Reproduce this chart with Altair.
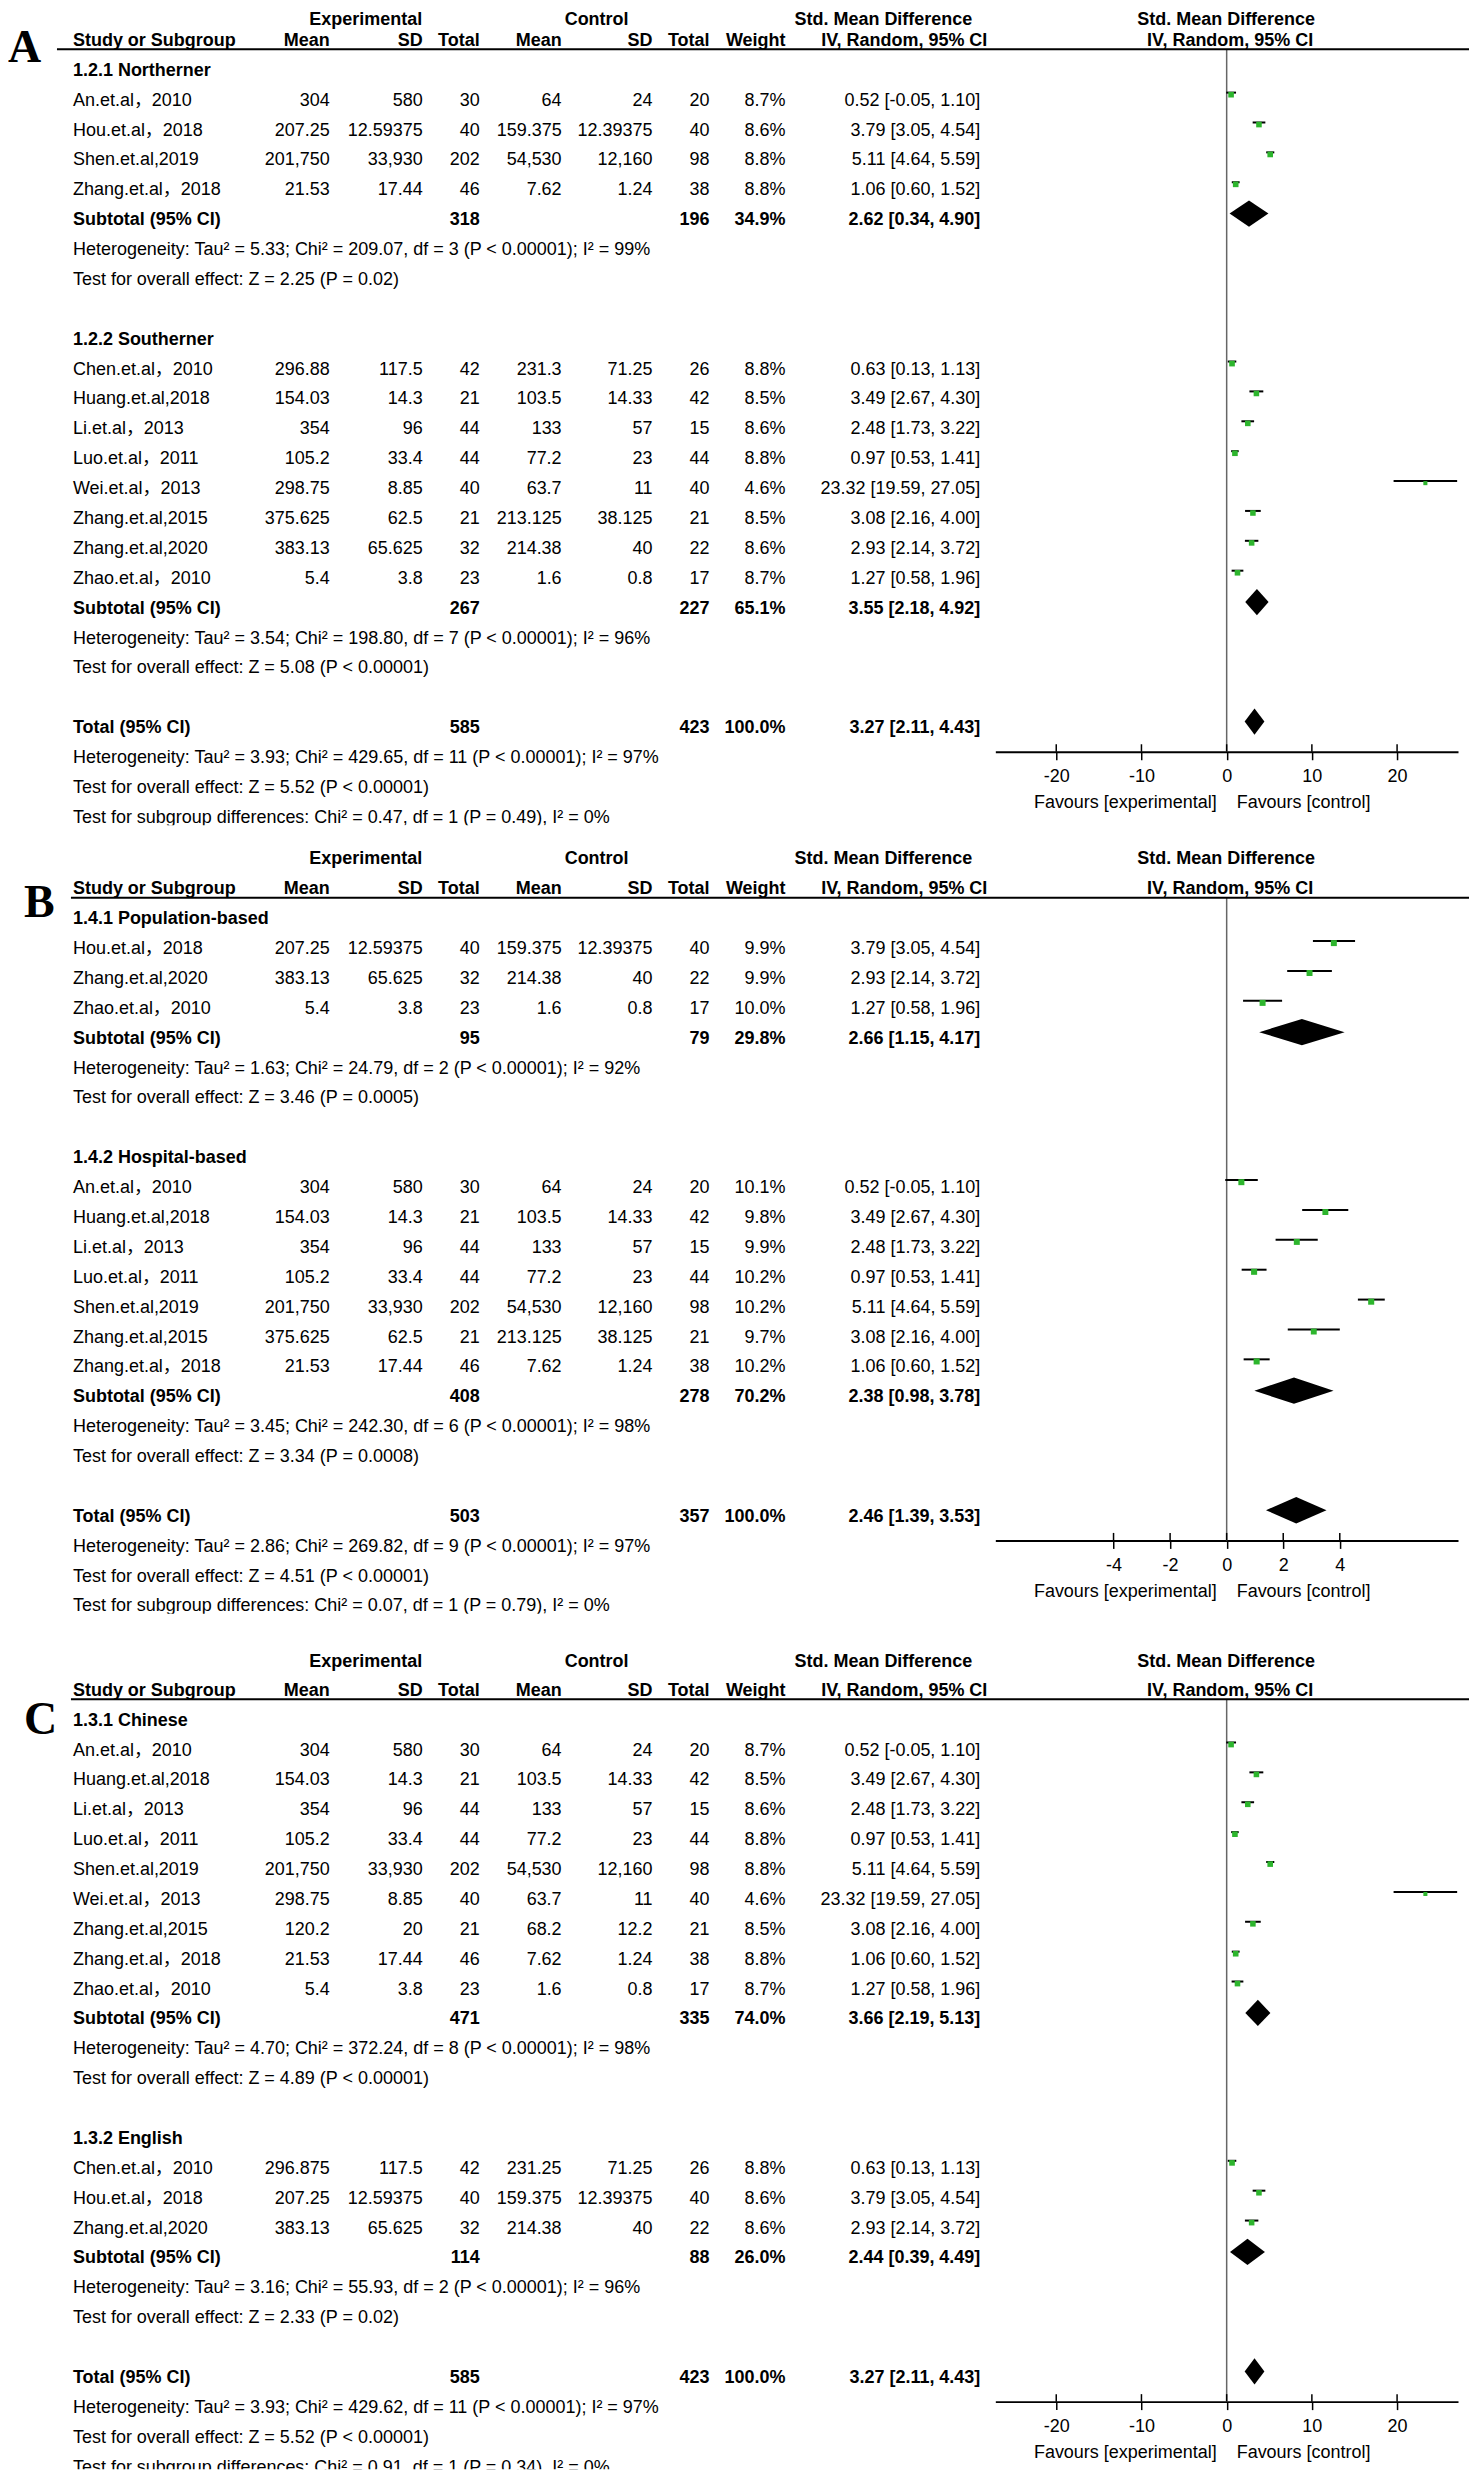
import altair as alt
import pandas as pd

FONT = "Liberation Sans, Noto Sans CJK SC"
SERIF = "Liberation Serif"
FS = 18
GREEN = "#2db52d"
W = 1462
STEP = 29.9

# ---------------- Panel A ----------------
A1_title = "1.2.1 Northerner"
A1_study = ["An.et.al，2010", "Hou.et.al，2018", "Shen.et.al,2019", "Zhang.et.al，2018"]
A1_exp = [("304", "580", 30), ("207.25", "12.59375", 40), ("201,750", "33,930", 202), ("21.53", "17.44", 46)]
A1_ctl = [("64", "24", 20), ("159.375", "12.39375", 40), ("54,530", "12,160", 98), ("7.62", "1.24", 38)]
A1_weight = [8.7, 8.6, 8.8, 8.8]
A1_smd = [0.52, 3.79, 5.11, 1.06]
A1_lo = [-0.05, 3.05, 4.64, 0.60]
A1_hi = [1.10, 4.54, 5.59, 1.52]
A1_sub = [318, 196, 34.9, 2.62, 0.34, 4.90]
A1_notes = ["Heterogeneity: Tau² = 5.33; Chi² = 209.07, df = 3 (P < 0.00001); I² = 99%",
            "Test for overall effect: Z = 2.25 (P = 0.02)"]

A2_title = "1.2.2 Southerner"
A2_study = ["Chen.et.al，2010", "Huang.et.al,2018", "Li.et.al，2013", "Luo.et.al，2011",
            "Wei.et.al，2013", "Zhang.et.al,2015", "Zhang.et.al,2020", "Zhao.et.al，2010"]
A2_exp = [("296.88", "117.5", 42), ("154.03", "14.3", 21), ("354", "96", 44), ("105.2", "33.4", 44),
          ("298.75", "8.85", 40), ("375.625", "62.5", 21), ("383.13", "65.625", 32), ("5.4", "3.8", 23)]
A2_ctl = [("231.3", "71.25", 26), ("103.5", "14.33", 42), ("133", "57", 15), ("77.2", "23", 44),
          ("63.7", "11", 40), ("213.125", "38.125", 21), ("214.38", "40", 22), ("1.6", "0.8", 17)]
A2_weight = [8.8, 8.5, 8.6, 8.8, 4.6, 8.5, 8.6, 8.7]
A2_smd = [0.63, 3.49, 2.48, 0.97, 23.32, 3.08, 2.93, 1.27]
A2_lo = [0.13, 2.67, 1.73, 0.53, 19.59, 2.16, 2.14, 0.58]
A2_hi = [1.13, 4.30, 3.22, 1.41, 27.05, 4.00, 3.72, 1.96]
A2_sub = [267, 227, 65.1, 3.55, 2.18, 4.92]
A2_notes = ["Heterogeneity: Tau² = 3.54; Chi² = 198.80, df = 7 (P < 0.00001); I² = 96%",
            "Test for overall effect: Z = 5.08 (P < 0.00001)"]

A_total = [585, 423, 100.0, 3.27, 2.11, 4.43]
A_total_notes = ["Heterogeneity: Tau² = 3.93; Chi² = 429.65, df = 11 (P < 0.00001); I² = 97%",
                 "Test for overall effect: Z = 5.52 (P < 0.00001)",
                 "Test for subgroup differences: Chi² = 0.47, df = 1 (P = 0.49), I² = 0%"]

# ---------------- Panel B ----------------
B1_title = "1.4.1 Population-based"
B1_study = ["Hou.et.al，2018", "Zhang.et.al,2020", "Zhao.et.al，2010"]
B1_exp = [("207.25", "12.59375", 40), ("383.13", "65.625", 32), ("5.4", "3.8", 23)]
B1_ctl = [("159.375", "12.39375", 40), ("214.38", "40", 22), ("1.6", "0.8", 17)]
B1_weight = [9.9, 9.9, 10.0]
B1_smd = [3.79, 2.93, 1.27]
B1_lo = [3.05, 2.14, 0.58]
B1_hi = [4.54, 3.72, 1.96]
B1_sub = [95, 79, 29.8, 2.66, 1.15, 4.17]
B1_notes = ["Heterogeneity: Tau² = 1.63; Chi² = 24.79, df = 2 (P < 0.00001); I² = 92%",
            "Test for overall effect: Z = 3.46 (P = 0.0005)"]

B2_title = "1.4.2 Hospital-based"
B2_study = ["An.et.al，2010", "Huang.et.al,2018", "Li.et.al，2013", "Luo.et.al，2011",
            "Shen.et.al,2019", "Zhang.et.al,2015", "Zhang.et.al，2018"]
B2_exp = [("304", "580", 30), ("154.03", "14.3", 21), ("354", "96", 44), ("105.2", "33.4", 44),
          ("201,750", "33,930", 202), ("375.625", "62.5", 21), ("21.53", "17.44", 46)]
B2_ctl = [("64", "24", 20), ("103.5", "14.33", 42), ("133", "57", 15), ("77.2", "23", 44),
          ("54,530", "12,160", 98), ("213.125", "38.125", 21), ("7.62", "1.24", 38)]
B2_weight = [10.1, 9.8, 9.9, 10.2, 10.2, 9.7, 10.2]
B2_smd = [0.52, 3.49, 2.48, 0.97, 5.11, 3.08, 1.06]
B2_lo = [-0.05, 2.67, 1.73, 0.53, 4.64, 2.16, 0.60]
B2_hi = [1.10, 4.30, 3.22, 1.41, 5.59, 4.00, 1.52]
B2_sub = [408, 278, 70.2, 2.38, 0.98, 3.78]
B2_notes = ["Heterogeneity: Tau² = 3.45; Chi² = 242.30, df = 6 (P < 0.00001); I² = 98%",
            "Test for overall effect: Z = 3.34 (P = 0.0008)"]

B_total = [503, 357, 100.0, 2.46, 1.39, 3.53]
B_total_notes = ["Heterogeneity: Tau² = 2.86; Chi² = 269.82, df = 9 (P < 0.00001); I² = 97%",
                 "Test for overall effect: Z = 4.51 (P < 0.00001)",
                 "Test for subgroup differences: Chi² = 0.07, df = 1 (P = 0.79), I² = 0%"]

# ---------------- Panel C ----------------
C1_title = "1.3.1 Chinese"
C1_study = ["An.et.al，2010", "Huang.et.al,2018", "Li.et.al，2013", "Luo.et.al，2011", "Shen.et.al,2019",
            "Wei.et.al，2013", "Zhang.et.al,2015", "Zhang.et.al，2018", "Zhao.et.al，2010"]
C1_exp = [("304", "580", 30), ("154.03", "14.3", 21), ("354", "96", 44), ("105.2", "33.4", 44),
          ("201,750", "33,930", 202), ("298.75", "8.85", 40), ("120.2", "20", 21), ("21.53", "17.44", 46),
          ("5.4", "3.8", 23)]
C1_ctl = [("64", "24", 20), ("103.5", "14.33", 42), ("133", "57", 15), ("77.2", "23", 44),
          ("54,530", "12,160", 98), ("63.7", "11", 40), ("68.2", "12.2", 21), ("7.62", "1.24", 38),
          ("1.6", "0.8", 17)]
C1_weight = [8.7, 8.5, 8.6, 8.8, 8.8, 4.6, 8.5, 8.8, 8.7]
C1_smd = [0.52, 3.49, 2.48, 0.97, 5.11, 23.32, 3.08, 1.06, 1.27]
C1_lo = [-0.05, 2.67, 1.73, 0.53, 4.64, 19.59, 2.16, 0.60, 0.58]
C1_hi = [1.10, 4.30, 3.22, 1.41, 5.59, 27.05, 4.00, 1.52, 1.96]
C1_sub = [471, 335, 74.0, 3.66, 2.19, 5.13]
C1_notes = ["Heterogeneity: Tau² = 4.70; Chi² = 372.24, df = 8 (P < 0.00001); I² = 98%",
            "Test for overall effect: Z = 4.89 (P < 0.00001)"]

C2_title = "1.3.2 English"
C2_study = ["Chen.et.al，2010", "Hou.et.al，2018", "Zhang.et.al,2020"]
C2_exp = [("296.875", "117.5", 42), ("207.25", "12.59375", 40), ("383.13", "65.625", 32)]
C2_ctl = [("231.25", "71.25", 26), ("159.375", "12.39375", 40), ("214.38", "40", 22)]
C2_weight = [8.8, 8.6, 8.6]
C2_smd = [0.63, 3.79, 2.93]
C2_lo = [0.13, 3.05, 2.14]
C2_hi = [1.13, 4.54, 3.72]
C2_sub = [114, 88, 26.0, 2.44, 0.39, 4.49]
C2_notes = ["Heterogeneity: Tau² = 3.16; Chi² = 55.93, df = 2 (P < 0.00001); I² = 96%",
            "Test for overall effect: Z = 2.33 (P = 0.02)"]

C_total = [585, 423, 100.0, 3.27, 2.11, 4.43]
C_total_notes = ["Heterogeneity: Tau² = 3.93; Chi² = 429.62, df = 11 (P < 0.00001); I² = 97%",
                 "Test for overall effect: Z = 5.52 (P < 0.00001)",
                 "Test for subgroup differences: Chi² = 0.91, df = 1 (P = 0.34), I² = 0%"]

AB_TICKS = [-20, -10, 0, 10, 20]
B_TICKS = [-4, -2, 0, 2, 4]

# column layout: x position (px) and alignment
COLS = {
    "label": (65, "left"), "clip": (65, "left"),
    "em": (322, "right"), "esd": (415, "right"), "en": (472, "right"),
    "cm": (554, "right"), "csd": (645, "right"), "cn": (702, "right"),
    "w": (778, "right"), "ci": (973, "right"),
    "h_exp": (358, "center"), "h_ctl": (589, "center"),
    "h_smd1": (876, "center"), "h_iv1": (980, "right"),
    "h_smd2": (1219, "center"), "h_iv2": (1223, "center"),
}


def grp(title, study, exp, ctl, weight, smd, lo, hi, sub, notes):
    return dict(title=title, study=study, exp=exp, ctl=ctl, weight=weight,
                smd=smd, lo=lo, hi=hi, sub=sub, notes=notes)


def ci_text(e, l, h):
    return f"{e:.2f} [{l:.2f}, {h:.2f}]"


def panel(letter, groups, total, total_notes, xdom, ticks, H, y0, exp_r, letter_r, letter_x, ul_x0):
    items, ci_rows, sq_rows, dia_rows = [], [], [], []

    def add(r, col, t, b=False):
        items.append({"r": r, "col": col, "t": t, "b": b})

    def diamond(r, k, est, lo, hi):
        c = r - 0.22
        dia_rows.extend([
            {"id": k, "x": lo, "y": c, "y2": c},
            {"id": k, "x": est, "y": c - 0.44, "y2": c + 0.44},
            {"id": k, "x": hi, "y": c, "y2": c},
        ])

    add(exp_r, "h_exp", "Experimental", True)
    add(exp_r, "h_ctl", "Control", True)
    add(exp_r, "h_smd1", "Std. Mean Difference", True)
    add(exp_r, "h_smd2", "Std. Mean Difference", True)
    for col, t in [("label", "Study or Subgroup"), ("em", "Mean"), ("esd", "SD"), ("en", "Total"),
                   ("cm", "Mean"), ("csd", "SD"), ("cn", "Total"), ("w", "Weight"),
                   ("h_iv1", "IV, Random, 95% CI"), ("h_iv2", "IV, Random, 95% CI")]:
        add(-1, col, t, True)

    r = 0
    for gi, g in enumerate(groups):
        add(r, "label", g["title"], True)
        r += 1
        for i, name in enumerate(g["study"]):
            em, esd, en = g["exp"][i]
            cm, csd, cn = g["ctl"][i]
            add(r, "label", name)
            add(r, "em", em); add(r, "esd", esd); add(r, "en", str(en))
            add(r, "cm", cm); add(r, "csd", csd); add(r, "cn", str(cn))
            add(r, "w", f"{g['weight'][i]:.1f}%")
            add(r, "ci", ci_text(g["smd"][i], g["lo"][i], g["hi"][i]))
            ci_rows.append({"r": r - 0.27, "lo": g["lo"][i], "hi": g["hi"][i]})
            sq_rows.append({"r": r - 0.2, "est": g["smd"][i], "w": g["weight"][i]})
            r += 1
        n1, n2, w, est, lo, hi = g["sub"]
        add(r, "label", "Subtotal (95% CI)", True)
        add(r, "en", str(n1), True); add(r, "cn", str(n2), True)
        add(r, "w", f"{w:.1f}%", True); add(r, "ci", ci_text(est, lo, hi), True)
        diamond(r, gi, est, lo, hi)
        r += 1
        for note in g["notes"]:
            add(r, "label", note)
            r += 1
        r += 1

    n1, n2, w, est, lo, hi = total
    r_total = r
    add(r, "label", "Total (95% CI)", True)
    add(r, "en", str(n1), True); add(r, "cn", str(n2), True)
    add(r, "w", f"{w:.1f}%", True); add(r, "ci", ci_text(est, lo, hi), True)
    diamond(r, 99, est, lo, hi)
    r += 1
    for j, note in enumerate(total_notes):
        add(r, "clip" if j == len(total_notes) - 1 else "label", note)
        r += 1

    r_ul = -0.72
    r_axis = r_total + 0.79
    r_fav = r_axis + 1.71
    axis_px = y0 + r_axis * STEP

    ys = alt.Scale(domain=[(0 - y0) / STEP, (H - y0) / STEP], reverse=True, nice=False, zero=False)
    xs = alt.Scale(domain=xdom, range=[988, 1451], nice=False, zero=False)
    ax = alt.Axis(values=ticks, title=None, grid=False, domainColor="black", domainWidth=2,
                  tickColor="black", tickWidth=1.5, tickSize=8, labelFont=FONT, labelFontSize=FS,
                  labelColor="black", labelPadding=8, offset=axis_px - H, labelFlush=False,
                  labelOverlap=False,
                  labelExpr="datum.value < 0 ? '-' + abs(datum.value) : '' + datum.value")
    Y = lambda f: alt.Y(f, scale=ys, axis=None)
    one = pd.DataFrame({"z": [0]})

    df = pd.DataFrame(items)
    layers = []
    for col, (xp, al) in COLS.items():
        for b in (False, True):
            if not any(it["col"] == col and it["b"] == b for it in items):
                continue
            layers.append(
                alt.Chart(df)
                .transform_filter(f"datum.col == '{col}' && datum.b == {'true' if b else 'false'}")
                .mark_text(align=al, baseline="middle", font=FONT, fontSize=FS,
                           fontWeight="bold" if b else "normal", color="black", clip=(col == "clip"))
                .encode(x=alt.value(xp), y=Y("r:Q"), text="t:N")
            )

    letter_l = alt.Chart(one).mark_text(text=letter, font=SERIF, fontSize=46, fontWeight="bold",
                                        align="left", baseline="middle", color="black").encode(
        x=alt.value(letter_x), y=alt.YDatum(letter_r, scale=ys, axis=None))
    under = alt.Chart(one).mark_rule(color="black", strokeWidth=2).encode(
        x=alt.value(ul_x0), x2=alt.value(W), y=alt.YDatum(r_ul, scale=ys, axis=None))
    zero = alt.Chart(one).mark_rule(color="#666666", strokeWidth=1.5).encode(
        x=alt.XDatum(0, scale=xs, axis=ax), y=alt.YDatum(r_ul, scale=ys, axis=None),
        y2=alt.Y2Datum(r_axis))
    tk = alt.Chart(pd.DataFrame({"t": ticks})).mark_rule(color="black", strokeWidth=1.5).encode(
        x=alt.X("t:Q", scale=xs, axis=ax), y=alt.YDatum(r_axis - 7.5 / STEP, scale=ys, axis=None),
        y2=alt.Y2Datum(r_axis))
    ci = alt.Chart(pd.DataFrame(ci_rows)).mark_rule(color="black", strokeWidth=2).encode(
        x=alt.X("lo:Q", scale=xs, axis=ax), x2="hi:Q", y=Y("r:Q"))
    sq = alt.Chart(pd.DataFrame(sq_rows)).mark_square(color=GREEN, opacity=1, filled=True).encode(
        x=alt.X("est:Q", scale=xs, axis=ax), y=Y("r:Q"),
        size=alt.Size("w:Q", scale=alt.Scale(domain=[0, 10], range=[0, 36]), legend=None))
    dia = alt.Chart(pd.DataFrame(dia_rows)).mark_area(color="black", opacity=1).encode(
        x=alt.X("x:Q", scale=xs, axis=ax), y=Y("y:Q"), y2="y2:Q", detail="id:N")
    fav1 = alt.Chart(one).mark_text(text="Favours [experimental]", align="right", dx=-10,
                                    baseline="middle", font=FONT, fontSize=FS, color="black").encode(
        x=alt.XDatum(0, scale=xs, axis=ax), y=alt.YDatum(r_fav, scale=ys, axis=None))
    fav2 = alt.Chart(one).mark_text(text="Favours [control]", align="left", dx=10,
                                    baseline="middle", font=FONT, fontSize=FS, color="black").encode(
        x=alt.XDatum(0, scale=xs, axis=ax), y=alt.YDatum(r_fav, scale=ys, axis=None))

    return alt.layer(zero, tk, ci, sq, dia, fav1, fav2, under, letter_l, *layers).properties(
        width=W, height=H)


pA = panel("A",
           [grp(A1_title, A1_study, A1_exp, A1_ctl, A1_weight, A1_smd, A1_lo, A1_hi, A1_sub, A1_notes),
            grp(A2_title, A2_study, A2_exp, A2_ctl, A2_weight, A2_smd, A2_lo, A2_hi, A2_sub, A2_notes)],
           A_total, A_total_notes, [-27.15, 27.15], AB_TICKS,
           H=817, y0=62, exp_r=(11 - 62) / STEP, letter_r=-0.75, letter_x=0, ul_x0=49)
pB = panel("B",
           [grp(B1_title, B1_study, B1_exp, B1_ctl, B1_weight, B1_smd, B1_lo, B1_hi, B1_sub, B1_notes),
            grp(B2_title, B2_study, B2_exp, B2_ctl, B2_weight, B2_smd, B2_lo, B2_hi, B2_sub, B2_notes)],
           B_total, B_total_notes, [-8.18, 8.18], B_TICKS,
           H=789, y0=94, exp_r=-2.0, letter_r=-0.53, letter_x=16, ul_x0=63)
pC = panel("C",
           [grp(C1_title, C1_study, C1_exp, C1_ctl, C1_weight, C1_smd, C1_lo, C1_hi, C1_sub, C1_notes),
            grp(C2_title, C2_study, C2_exp, C2_ctl, C2_weight, C2_smd, C2_lo, C2_hi, C2_sub, C2_notes)],
           C_total, C_total_notes, [-27.15, 27.15], AB_TICKS,
           H=856, y0=107, exp_r=-1.97, letter_r=-0.03, letter_x=16, ul_x0=63)

chart = (alt.vconcat(pA, pB, pC, spacing=0)
         .properties(padding=0)
         .configure_view(stroke=None))

chart.save("out.html", embed_options={"renderer": "svg", "actions": False})
